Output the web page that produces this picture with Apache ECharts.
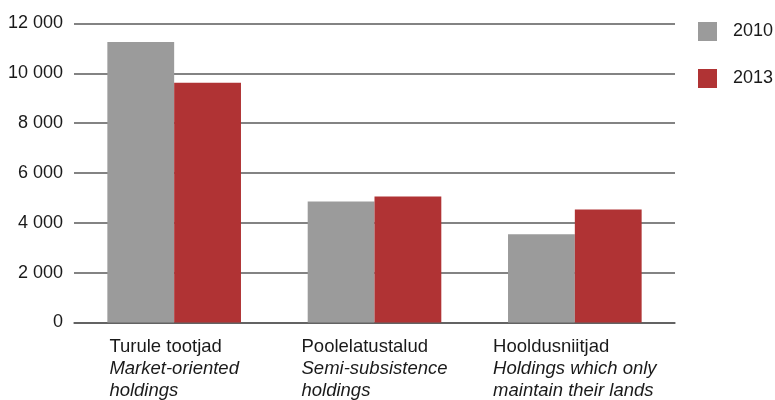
<!DOCTYPE html>
<html><head><meta charset="utf-8">
<script src="https://cdn.jsdelivr.net/npm/echarts@6/dist/echarts.min.js"></script>
<style>html,body{margin:0;padding:0;background:#fff}#c{width:775px;height:400px}</style>
</head><body><div id="c"></div>
<script>
const categoriesEt = ['Turule tootjad', 'Poolelatustalud', 'Hooldusniitjad'];
const categoriesEn = [['Market-oriented', 'holdings'], ['Semi-subsistence', 'holdings'], ['Holdings which only', 'maintain their lands']];
const seriesNames = ['2010', '2013'];
const values2010 = [11260, 4860, 3540];
const values2013 = [9620, 5060, 4540];
const yTicks = [0, 2000, 4000, 6000, 8000, 10000, 12000];

const chart = echarts.init(document.getElementById('c'));
const fontFamily = '"Liberation Sans", Arial, sans-serif';
chart.setOption({
  animation: false,
  textStyle: { fontFamily: fontFamily },
  grid: { left: 74, right: 100, top: 23.5, bottom: 76.5, containLabel: false },
  legend: {
    orient: 'vertical', left: 698, top: 22, padding: 0, itemWidth: 19, itemHeight: 19, itemGap: 28,
    icon: 'rect',
    textStyle: { fontSize: 18, color: '#1a1a1a', fontFamily: fontFamily, padding: [0, 0, 0, 11] },
    data: seriesNames
  },
  xAxis: {
    type: 'category',
    data: categoriesEt.map((c, i) => c + '\n' + categoriesEn[i].join('\n')),
    axisLine: { show: true, lineStyle: { color: '#5a5a5a', width: 1.5 } },
    axisTick: { show: false },
    axisLabel: {
      interval: 0, margin: 13, align: 'center',
      formatter: function (v, i) {
        return '{n|' + categoriesEt[i] + '}\n{it|' + categoriesEn[i][0] + '}\n{it|' + categoriesEn[i][1] + '}';
      },
      rich: {
        n: { fontSize: 18.5, color: '#1a1a1a', fontFamily: fontFamily, align: 'left', lineHeight: 22 },
        it: { fontSize: 18.5, color: '#1a1a1a', fontFamily: fontFamily, fontStyle: 'italic', align: 'left', lineHeight: 22 }
      }
    }
  },
  yAxis: {
    type: 'value', min: yTicks[0], max: yTicks[yTicks.length - 1], interval: 2000,
    axisLine: { show: false }, axisTick: { show: false },
    splitLine: { lineStyle: { color: '#5a5a5a', width: 1.5 } },
    axisLabel: {
      fontSize: 18, color: '#1a1a1a', margin: 11,
      formatter: v => String(v).replace(/\B(?=(\d{3})+(?!\d))/g, ' ')
    }
  },
  series: [
    { name: seriesNames[0], type: 'bar', data: values2010, barGap: '0%', barCategoryGap: '33.3%', itemStyle: { color: '#9b9b9b' } },
    { name: seriesNames[1], type: 'bar', data: values2013, barGap: '0%', barCategoryGap: '33.3%', itemStyle: { color: '#b03334' } }
  ]
});
</script></body></html>
